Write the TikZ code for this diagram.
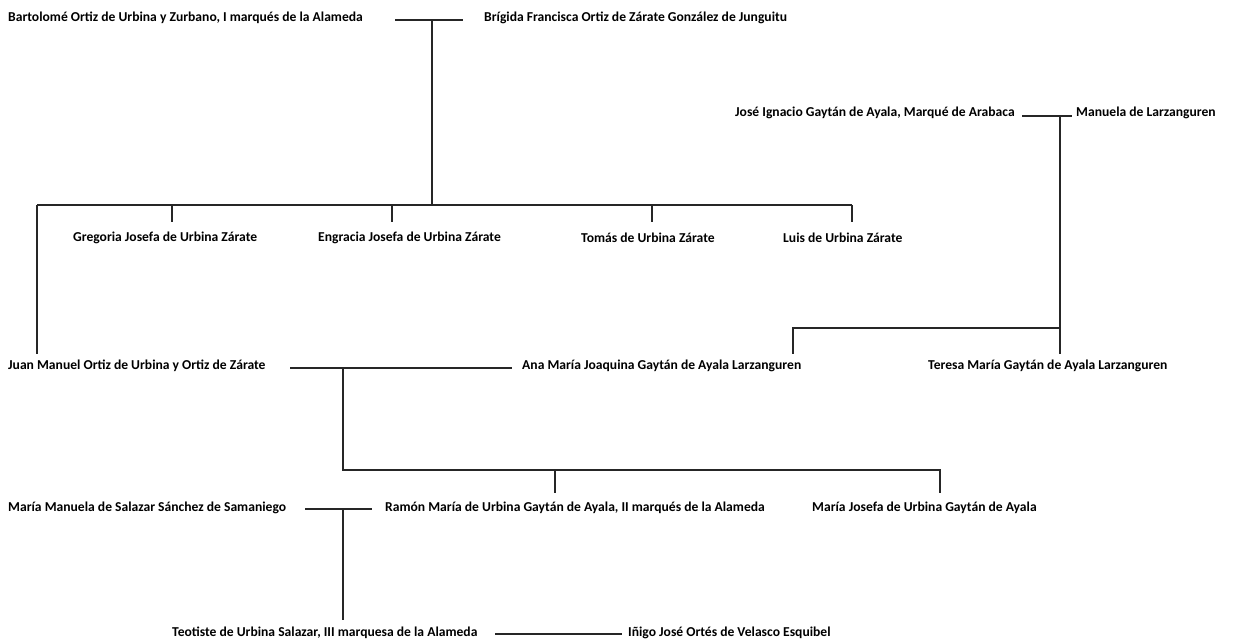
\documentclass[tikz,border=0pt]{standalone}
\usepackage{fontspec}
\setmainfont{Carlito}
\begin{document}
\begin{tikzpicture}[x=1pt,y=-1pt,
  person/.style={anchor=west,inner sep=0pt,font=\bfseries\fontsize{13.6}{15}\selectfont},
  link/.style={line width=1.3pt,black!85}]
\useasboundingbox (0,0) rectangle (1238,642);
\node[person] (bart) at (8,18) {Bartolomé Ortiz de Urbina y Zurbano, I marqués de la Alameda};
\node[person] (brig) at (484,18) {Brígida Francisca Ortiz de Zárate González de Junguitu};
\node[person] (jose) at (735,113) {José Ignacio Gaytán de Ayala, Marqué de Arabaca};
\node[person] (manu) at (1076,113) {Manuela de Larzanguren};
\node[person] (greg) at (73,238) {Gregoria Josefa de Urbina Zárate};
\node[person] (engr) at (318,238) {Engracia Josefa de Urbina Zárate};
\node[person] (tomas) at (581,238) {Tomás de Urbina Zárate};
\node[person] (luis) at (783,238) {Luis de Urbina Zárate};
\node[person] (juan) at (8,366) {Juan Manuel Ortiz de Urbina y Ortiz de Zárate};
\node[person] (ana) at (522,366) {Ana María Joaquina Gaytán de Ayala Larzanguren};
\node[person] (teresa) at (928,366) {Teresa María Gaytán de Ayala Larzanguren};
\node[person] (mman) at (8,508) {María Manuela de Salazar Sánchez de Samaniego};
\node[person] (ramon) at (385,508) {Ramón María de Urbina Gaytán de Ayala, II marqués de la Alameda};
\node[person] (mjos) at (812,508) {María Josefa de Urbina Gaytán de Ayala};
\node[person] (teo) at (172,633) {Teotiste de Urbina Salazar, III marquesa de la Alameda};
\node[person] (inigo) at (628,633) {Iñigo José Ortés de Velasco Esquibel};
% couple 1
\coordinate (c1) at (432,20);
\coordinate (b1) at (432,205);
\draw[link] (395,20) coordinate (c1a) -- (463,20) coordinate (c1b);
\draw[link] (c1) -- (b1);
\draw[link] (37,205) coordinate (b1l) -- (852,205) coordinate (b1r);
\draw[link] (172,205) -- (172,222);
\draw[link] (392,205) -- (392,222);
\draw[link] (652,205) -- (652,222);
\draw[link] (b1r) -- (852,222);
\draw[link] (b1l) -- (37,354);
% couple 2
\coordinate (c2) at (1060,116);
\draw[link] (1022,116) -- (1072,116);
\draw[link] (c2) -- (1060,354);
\draw[link] (1060,328) -- (793,328) -- (793,354);
% couple 3
\coordinate (c3) at (343,368);
\draw[link] (290,368) -- (512,368);
\draw[link] (c3) -- (343,470) coordinate (b3l) -- (940,470) coordinate (b3r) -- (940,493);
\draw[link] (555,470) -- (555,493);
% couple 4
\coordinate (c4) at (343,509);
\draw[link] (305,509) -- (372,509);
\draw[link] (c4) -- (343,620);
% couple 5
\draw[link] (495,634) -- (622,634);
\end{tikzpicture}
\end{document}
